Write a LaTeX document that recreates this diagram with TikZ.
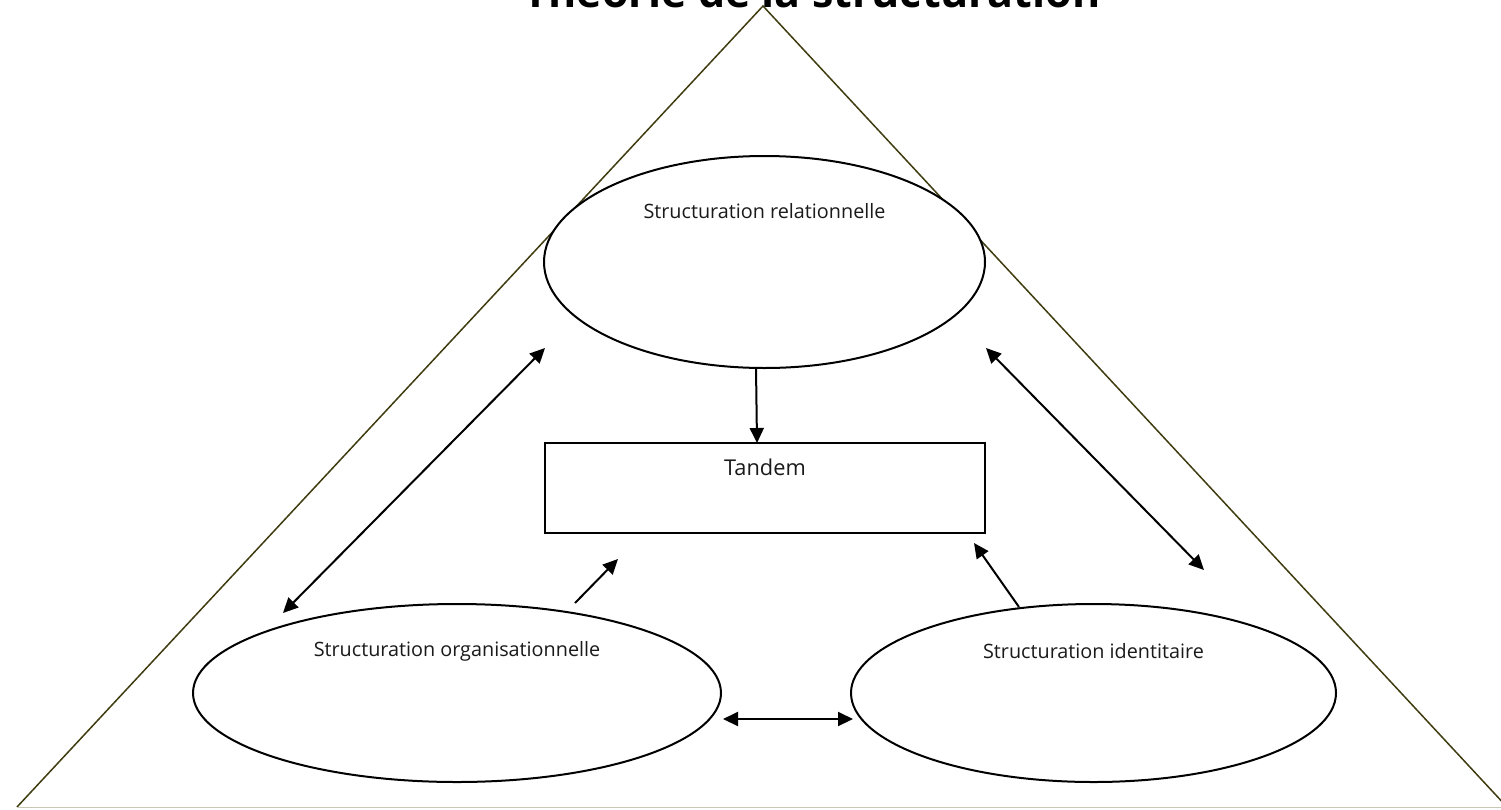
\documentclass[tikz,border=0pt]{standalone}
\usepackage{fontspec}
\setmainfont{Open Sans}
\usetikzlibrary{arrows.meta,calc,shapes.geometric}
\definecolor{olivedge}{HTML}{3F3C10}
\definecolor{baseedge}{HTML}{C8C8B4}
\definecolor{txt}{HTML}{1A1A1A}
\begin{document}
\begin{tikzpicture}[x=1pt,y=-1pt,
  oval/.style={draw=black, line width=2pt, fill=white, ellipse, inner sep=0pt},
  box/.style={draw=black, line width=2pt, fill=white, rectangle, inner sep=0pt},
  lbl/.style={text=txt, font=\fontsize{19.8}{23}\selectfont, anchor=center, inner sep=0pt},
  conn/.style={line width=2pt, -{Triangle[length=15pt,width=14pt]}},
  twoway/.style={line width=2pt, {Triangle[length=15pt,width=14pt]}-{Triangle[length=15pt,width=14pt]}},
  tri/.style={draw=olivedge, line width=1.5pt}]
\useasboundingbox (0,0) rectangle (1501,809);
% triangle
\draw[tri] (17,807) -- (763,6) -- (1507,807);
\draw[draw=baseedge, line width=1.5pt] (17,807.5) -- (1501,807.5);
% title
\node[anchor=base, font=\bfseries\fontsize{43}{46}\selectfont, inner sep=0pt] (title) at (812,7) {Théorie de la structuration};
% ellipses
\node[oval, minimum width=441pt, minimum height=212pt] (rel) at (764.5,262) {};
\node[oval, minimum width=528pt, minimum height=178pt] (org) at (457,693) {};
\node[oval, minimum width=485pt, minimum height=178pt] (ide) at (1093.5,693) {};
\node[lbl] (relt) at ($(rel.center)+(0,-51)$) {Structuration relationnelle};
\node[lbl] (orgt) at ($(org.center)+(0,-42)$) {Structuration organisationnelle};
\node[lbl] (idet) at ($(ide.center)+(0,-42)$) {Structuration identitaire};
% tandem
\node[box, minimum width=440pt, minimum height=90pt] (tandem) at (765,488) {};
\node[lbl, font=\fontsize{21.8}{25}\selectfont] (tandemt) at ($(tandem.center)+(0,-21)$) {Tandem};
% connector end points
\coordinate (v1) at (756,368);
\coordinate (v2) at (757,443);
\coordinate (l1) at (545,348);
\coordinate (l2) at (283,613);
\coordinate (r1) at (986,348);
\coordinate (r2) at (1204,570);
\coordinate (o1) at (575,603);
\coordinate (o2) at (618,559);
\coordinate (i1) at (1019,607);
\coordinate (i2) at (974,543);
\coordinate (h1) at (723,719);
\coordinate (h2) at (853,719);
% connectors
\draw[conn] (v1) -- (v2);
\draw[twoway] (l1) -- (l2);
\draw[twoway] (r1) -- (r2);
\draw[conn] (o1) -- (o2);
\draw[conn] (i1) -- (i2);
\draw[twoway] (h1) -- (h2);
\end{tikzpicture}
\end{document}
